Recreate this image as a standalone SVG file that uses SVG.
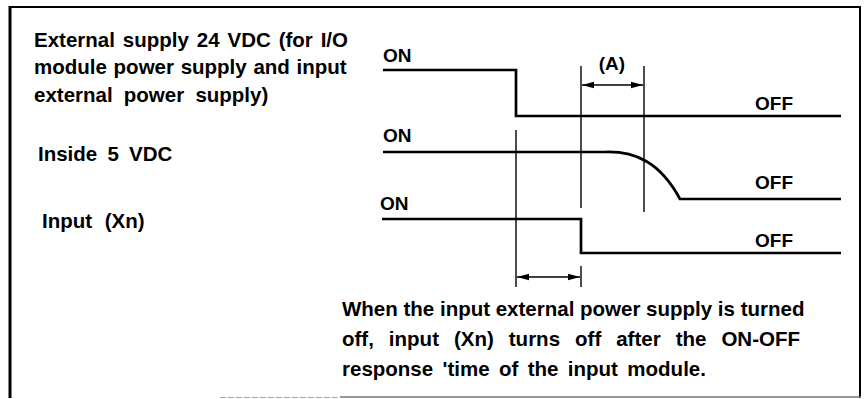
<svg xmlns="http://www.w3.org/2000/svg" width="867" height="399" viewBox="0 0 867 399">
<style>
text{font-family:"Liberation Sans",Arial,sans-serif;font-weight:bold;fill:#000}
.lbl{font-size:20.5px}
.sig{font-size:19px}
.para{font-size:20.5px}
.wave{fill:none;stroke:#000;stroke-width:2.7;stroke-linejoin:miter}
.guide{fill:none;stroke:#000;stroke-width:1.4}
.dim{fill:none;stroke:#000;stroke-width:1.6}
</style>
<defs>
<marker id="ah" viewBox="0 0 12 8" refX="12" refY="4" markerWidth="12" markerHeight="8" markerUnits="userSpaceOnUse" orient="auto-start-reverse">
<path d="M0,0.8 L12,4 L0,7.2 Z" fill="#000"/>
</marker>
</defs>
<rect width="867" height="399" fill="#fff"/>
<g id="frame">
<line x1="9" y1="7" x2="861" y2="7" stroke="#000" stroke-width="2"/>
<line x1="10" y1="6" x2="10" y2="398" stroke="#000" stroke-width="3"/>
<line x1="860" y1="6" x2="860" y2="398" stroke="#000" stroke-width="2"/>
<line x1="340" y1="397" x2="861" y2="397" stroke="#777" stroke-width="1.5"/>
<line x1="220" y1="397.5" x2="340" y2="397.5" stroke="#aaa" stroke-width="1.2" stroke-dasharray="6 2"/>
</g>
<g id="labels">
<text class="lbl" x="34" y="47" word-spacing="2.2">External supply 24 VDC (for I/O</text>
<text class="lbl" x="34" y="74" word-spacing="1">module power supply and input</text>
<text class="lbl" x="34" y="102" word-spacing="5.5">external power supply)</text>
<text class="lbl" x="38" y="161" word-spacing="4.5">Inside 5 VDC</text>
<text class="lbl" x="42" y="228" word-spacing="7">Input (Xn)</text>
</g>
<g id="signal-external-24v">
<path class="wave" d="M383 70 H516 V116 H841"/>
<text class="sig" x="383" y="62">ON</text>
<text class="sig" x="755" y="110">OFF</text>
</g>
<g id="signal-inside-5v">
<path class="wave" d="M383 152 H605 C635 151 660 162 680 199 H841"/>
<text class="sig" x="383" y="142">ON</text>
<text class="sig" x="755" y="189">OFF</text>
</g>
<g id="signal-input-xn">
<path class="wave" d="M382 219 H581 V253 H841"/>
<text class="sig" x="380" y="210">ON</text>
<text class="sig" x="755" y="247">OFF</text>
</g>
<g id="connectors">
<line class="guide" x1="516" y1="130" x2="516" y2="287"/>
<line class="guide" x1="581" y1="66" x2="581" y2="208"/>
<line class="guide" x1="581" y1="266" x2="581" y2="287"/>
<line class="guide" x1="644" y1="66" x2="644" y2="212"/>
<line class="dim" x1="582" y1="85" x2="643" y2="85" marker-start="url(#ah)" marker-end="url(#ah)"/>
<line class="dim" x1="517" y1="277" x2="580" y2="277" marker-start="url(#ah)" marker-end="url(#ah)"/>
</g>
<g id="label-a">
<text class="sig" x="612" y="70" text-anchor="middle">(A)</text>
</g>
<g id="note">
<text class="para" x="342" y="316">When the input external power supply is turned</text>
<text class="para" x="342" y="346" word-spacing="9.3">off, input (Xn) turns off after the ON-OFF</text>
<text class="para" x="342" y="376" word-spacing="3.7">response 'time of the input module.</text>
</g>
</svg>
